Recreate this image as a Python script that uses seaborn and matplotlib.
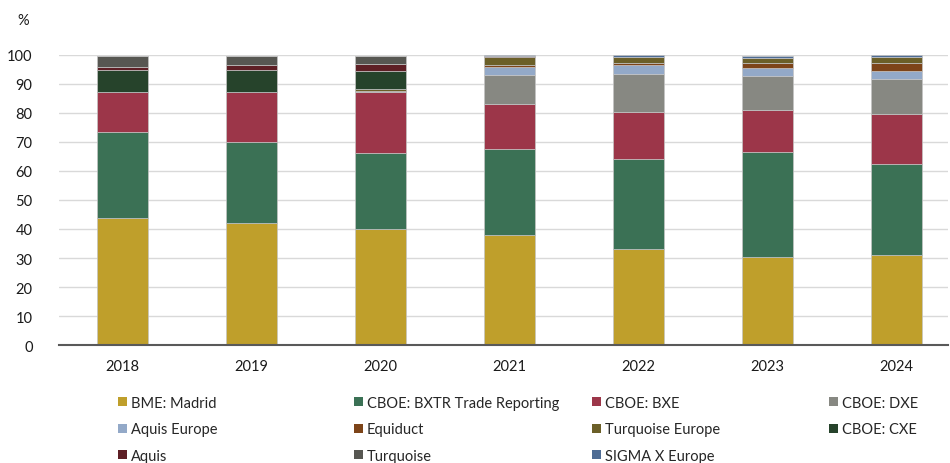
import matplotlib
matplotlib.use("Agg")
import matplotlib.pyplot as plt
import seaborn as sns
import numpy as np
from matplotlib.patches import Patch

years = ["2018", "2019", "2020", "2021", "2022", "2023", "2024"]

bme_madrid = [43.8, 41.9, 40.1, 38.0, 33.0, 30.2, 31.1]
cboe_bxtr = [29.7, 28.1, 26.0, 29.4, 31.1, 36.2, 31.1]
cboe_bxe = [13.5, 17.0, 20.9, 15.7, 16.2, 14.4, 17.3]
cboe_dxe = [0.0, 0.0, 0.6, 9.9, 13.0, 11.9, 12.0]
aquis_europe = [0.0, 0.0, 0.0, 2.7, 3.0, 2.7, 3.0]
equiduct = [0.0, 0.0, 0.0, 0.6, 0.9, 1.8, 2.7]
turquoise_europe = [0.0, 0.0, 0.5, 2.9, 2.0, 1.8, 2.0]
cboe_cxe = [7.7, 7.7, 6.2, 0.0, 0.0, 0.0, 0.0]
aquis = [1.1, 1.6, 2.5, 0.2, 0.0, 0.0, 0.0]
turquoise = [3.6, 3.1, 2.6, 0.0, 0.0, 0.0, 0.0]
sigma_x = [0.0, 0.0, 0.0, 0.6, 0.8, 0.7, 0.8]

series_names = ["BME: Madrid", "CBOE: BXTR Trade Reporting", "CBOE: BXE", "CBOE: DXE",
                "Aquis Europe", "Equiduct", "Turquoise Europe", "CBOE: CXE",
                "Aquis", "Turquoise", "SIGMA X Europe"]
series_values = [bme_madrid, cboe_bxtr, cboe_bxe, cboe_dxe, aquis_europe, equiduct,
                 turquoise_europe, cboe_cxe, aquis, turquoise, sigma_x]
series_colors = ["#BF9F2B", "#3B7155", "#9C3649", "#878882", "#93A9C8", "#7D4419",
                 "#6B5F28", "#26432B", "#5E1F25", "#575752", "#4E6C94"]

sns.set_style("white")
plt.rcParams["font.family"] = ["Lato", "DejaVu Sans"]

fig = plt.figure(figsize=(9.5, 4.64), dpi=100)
ax = fig.add_axes([0.062, 0.254, 0.936, 0.626])

cum = np.zeros(len(years))
for name, vals, col in zip(series_names, series_values, series_colors):
    vals = np.array(vals)
    sns.barplot(x=years, y=vals, bottom=cum, color=col, width=0.39, errorbar=None,
                ax=ax, edgecolor="#c4c4c4", linewidth=0.5, saturation=1)
    cum = cum + vals

ax.set_ylim(0, 100)
ax.set_xlim(-0.494, 6.40)
ax.set_yticks(range(0, 101, 10))
ax.yaxis.grid(True, color="#d9d9d9", linewidth=1)
ax.set_axisbelow(True)
for s in ["left", "right", "top"]:
    ax.spines[s].set_visible(False)
ax.spines["bottom"].set_color("#595959")
ax.spines["bottom"].set_linewidth(1.5)
ax.tick_params(axis="both", length=0, labelsize=10.5, colors="#1a1a1a")
ax.tick_params(axis="y", pad=19)
ax.tick_params(axis="x", pad=10)
ax.set_xlabel("")
ax.set_ylabel("")

fig.text(0.018, 0.955, "%", fontsize=10.5, color="#1a1a1a", va="center", ha="left")

handles = [Patch(facecolor=c, edgecolor="none") for c in series_colors]
columns = [[0, 4, 8], [1, 5, 9], [2, 6, 10], [3, 7]]
col_x = [118, 354, 592, 829]
for xs, idxs in zip(col_x, columns):
    leg = fig.legend([handles[i] for i in idxs], [series_names[i] for i in idxs],
                     loc="upper left", bbox_to_anchor=(xs / 950, 1 - 397 / 464),
                     frameon=False, fontsize=10.5, borderpad=0, borderaxespad=0,
                     handlelength=0.6, handleheight=0.6, handletextpad=0.3,
                     labelspacing=0.85)

fig.savefig("out.png", dpi=100)
